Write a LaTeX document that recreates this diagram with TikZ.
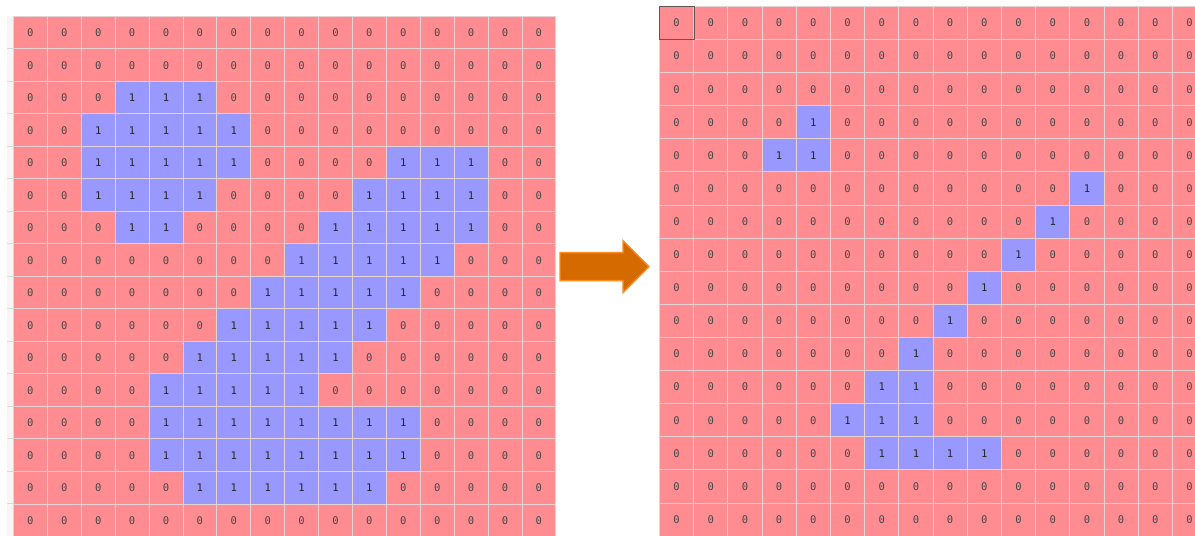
\documentclass[tikz,border=0pt]{standalone}
\usepackage{fontspec}
\newfontfamily\cellfont{DejaVu Sans Mono}
\definecolor{zeropink}{RGB}{255,140,145}
\definecolor{onesblue}{RGB}{152,152,255}
\definecolor{gridgray}{RGB}{228,210,212}
\definecolor{arroworange}{RGB}{212,106,0}
\definecolor{arrowrim}{RGB}{255,140,30}
\begin{document}
\begin{tikzpicture}[x=0.025cm, y=-0.025cm, font=\cellfont\fontsize{7.5}{9}\selectfont,
    cell/.style={draw=gridgray, line width=0.6pt, inner sep=0pt, anchor=north west, text=black!72},
    cell0/.style={cell, fill=zeropink},
    cell1/.style={cell, fill=onesblue, text=black!85},
    leftcell/.style={minimum width=0.8475cm, minimum height=0.8125cm},
    rightcell/.style={minimum width=0.855cm, minimum height=0.8275cm}]
  \useasboundingbox (0,0) rectangle (1195,536);
  % Row header strip
  \fill[gray!7] (7,16) rectangle (13,536);
  \foreach \r in {1,...,15} {
    \draw[gray!30, thin] (7,{16+32.5*\r}) -- (13,{16+32.5*\r});
  }
  % Input mask (left)
  \foreach \row [count=\r from 0] in {
      {0,0,0,0,0,0,0,0,0,0,0,0,0,0,0,0},
      {0,0,0,0,0,0,0,0,0,0,0,0,0,0,0,0},
      {0,0,0,1,1,1,0,0,0,0,0,0,0,0,0,0},
      {0,0,1,1,1,1,1,0,0,0,0,0,0,0,0,0},
      {0,0,1,1,1,1,1,0,0,0,0,1,1,1,0,0},
      {0,0,1,1,1,1,0,0,0,0,1,1,1,1,0,0},
      {0,0,0,1,1,0,0,0,0,1,1,1,1,1,0,0},
      {0,0,0,0,0,0,0,0,1,1,1,1,1,0,0,0},
      {0,0,0,0,0,0,0,1,1,1,1,1,0,0,0,0},
      {0,0,0,0,0,0,1,1,1,1,1,0,0,0,0,0},
      {0,0,0,0,0,1,1,1,1,1,0,0,0,0,0,0},
      {0,0,0,0,1,1,1,1,1,0,0,0,0,0,0,0},
      {0,0,0,0,1,1,1,1,1,1,1,1,0,0,0,0},
      {0,0,0,0,1,1,1,1,1,1,1,1,0,0,0,0},
      {0,0,0,0,0,1,1,1,1,1,1,0,0,0,0,0},
      {0,0,0,0,0,0,0,0,0,0,0,0,0,0,0,0}}
  {
    \foreach \v [count=\c from 0] in \row {
      \node[cell\v, leftcell] (L-\r-\c) at ({13+33.9*\c},{16+32.5*\r}) {\v};
    }
  }
  % Thinned mask (right), last column cut by the page edge
  \begin{scope}
    \clip (655,0) rectangle (1195,536);
    \foreach \row [count=\r from 0] in {
        {0,0,0,0,0,0,0,0,0,0,0,0,0,0,0,0},
        {0,0,0,0,0,0,0,0,0,0,0,0,0,0,0,0},
        {0,0,0,0,0,0,0,0,0,0,0,0,0,0,0,0},
        {0,0,0,0,1,0,0,0,0,0,0,0,0,0,0,0},
        {0,0,0,1,1,0,0,0,0,0,0,0,0,0,0,0},
        {0,0,0,0,0,0,0,0,0,0,0,0,1,0,0,0},
        {0,0,0,0,0,0,0,0,0,0,0,1,0,0,0,0},
        {0,0,0,0,0,0,0,0,0,0,1,0,0,0,0,0},
        {0,0,0,0,0,0,0,0,0,1,0,0,0,0,0,0},
        {0,0,0,0,0,0,0,0,1,0,0,0,0,0,0,0},
        {0,0,0,0,0,0,0,1,0,0,0,0,0,0,0,0},
        {0,0,0,0,0,0,1,1,0,0,0,0,0,0,0,0},
        {0,0,0,0,0,1,1,1,0,0,0,0,0,0,0,0},
        {0,0,0,0,0,0,1,1,1,1,0,0,0,0,0,0},
        {0,0,0,0,0,0,0,0,0,0,0,0,0,0,0,0},
        {0,0,0,0,0,0,0,0,0,0,0,0,0,0,0,0}}
    {
      \foreach \v [count=\c from 0] in \row {
        \node[cell\v, rightcell] (R-\r-\c) at ({659+34.2*\c},{6+33.1*\r}) {\v};
      }
    }
    % Selected cell
    \draw[gray!70!black, line width=0.7pt] (R-0-0.north west) rectangle (R-0-0.south east);
  \end{scope}
  % Arrow between the grids
  \filldraw[fill=arroworange, draw=arrowrim, line width=1pt, line join=miter]
    (560,252.7) -- (623,252.7) -- (623,240.7) -- (649,266.7)
    -- (623,292.7) -- (623,280.7) -- (560,280.7) -- cycle;
\end{tikzpicture}
\end{document}
